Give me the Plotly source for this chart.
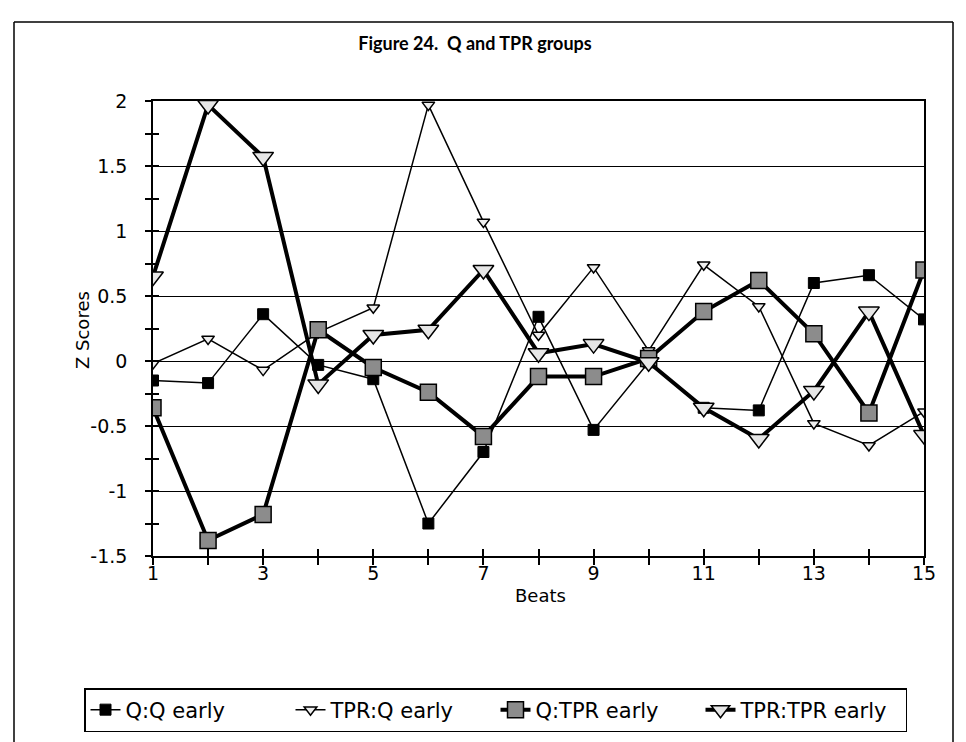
import plotly.graph_objects as go

beats = list(range(1, 16))
x_tick_vals = list(range(1, 16))
x_tick_text = ["1", "", "3", "", "5", "", "7", "", "9", "", "11", "", "13", "", "15"]
y_tick_vals = [2, 1.5, 1, 0.5, 0, -0.5, -1, -1.5]
y_tick_text = ["2", "1.5", "1", "0.5", "0", "-0.5", "-1", "-1.5"]

q_q_early = [-0.15, -0.17, 0.36, -0.03, -0.14, -1.25, -0.70, 0.34, -0.53, -0.01, -0.36, -0.38, 0.60, 0.66, 0.32]
tpr_q_early = [-0.02, 0.17, -0.07, 0.22, 0.41, 1.97, 1.07, 0.20, 0.72, 0.08, 0.74, 0.42, -0.48, -0.65, -0.39]
q_tpr_early = [-0.36, -1.38, -1.18, 0.24, -0.05, -0.24, -0.58, -0.12, -0.12, 0.02, 0.38, 0.62, 0.21, -0.40, 0.70]
tpr_tpr_early = [0.65, 1.97, 1.57, -0.18, 0.20, 0.24, 0.70, 0.06, 0.13, -0.01, -0.36, -0.60, -0.23, 0.38, -0.57]

FONT = "DejaVu Sans"

fig = go.Figure()
fig.add_trace(go.Scatter(
    x=beats, y=q_q_early, name="Q:Q early", mode="lines+markers",
    line=dict(color="black", width=1.5),
    marker=dict(symbol="square", size=11, color="black", line=dict(color="black", width=1))))
fig.add_trace(go.Scatter(
    x=beats, y=tpr_q_early, name="TPR:Q early", mode="lines+markers",
    line=dict(color="black", width=1.5),
    marker=dict(symbol="triangle-down", size=11, color="#eeeeee", line=dict(color="black", width=1.5))))
fig.add_trace(go.Scatter(
    x=beats, y=q_tpr_early, name="Q:TPR early", mode="lines+markers",
    line=dict(color="black", width=4),
    marker=dict(symbol="square", size=16, color="#8c8c8c", line=dict(color="black", width=1.5))))
fig.add_trace(go.Scatter(
    x=beats, y=tpr_tpr_early, name="TPR:TPR early", mode="lines+markers",
    line=dict(color="black", width=4),
    marker=dict(symbol="triangle-down", size=18, color="#e6e6e6", line=dict(color="black", width=1.5))))

# invisible helper trace so the overlay axes (inner half of crossing ticks) render
fig.add_trace(go.Scatter(x=[1], y=[0], xaxis="x2", yaxis="y2", mode="markers",
                         marker=dict(opacity=0), showlegend=False, hoverinfo="skip"))

L, R, T, B = 153, 42, 101, 186
W, H = 966, 742
pw, ph = W - L - R, H - T - B

def px(x):
    return (x - L) / pw

def py(y):
    return (H - B - y) / ph

tick_common = dict(tickcolor="black", tickwidth=1.5)

fig.update_layout(
    width=W, height=H,
    margin=dict(l=L, r=R, t=T, b=B, autoexpand=False),
    paper_bgcolor="white", plot_bgcolor="white",
    font=dict(family=FONT, color="black", size=19),
    title=dict(text="Figure 24.  Q and TPR groups", x=px(475), xref="paper", xanchor="center",
               y=1 - 44 / H, yanchor="middle",
               font=dict(size=18, family="Lato", weight="bold", color="black")),
    showlegend=True,
    legend=dict(orientation="h", x=px(84), xanchor="left", y=py(710), yanchor="middle",
                bordercolor="black", borderwidth=1.5, bgcolor="white",
                font=dict(size=21, family=FONT), itemwidth=30, tracegroupgap=0,
                entrywidth=160, entrywidthmode="pixels"),
    xaxis=dict(range=[1, 15], tickvals=x_tick_vals, ticktext=x_tick_text,
               showgrid=False, zeroline=False, showline=True, linecolor="black", linewidth=1.5,
               mirror=True, ticks="outside", ticklen=7, ticklabelstandoff=-8,
               tickfont=dict(size=19, family=FONT), **tick_common),
    yaxis=dict(range=[-1.5, 2], tickvals=y_tick_vals, ticktext=y_tick_text,
               showgrid=True, gridcolor="black", gridwidth=1.2, zeroline=False,
               showline=True, linecolor="black", linewidth=1.5, mirror=True,
               ticks="outside", ticklen=6, ticklabelstandoff=14,
               tickfont=dict(size=19, family=FONT),
               minor=dict(dtick=0.25, tick0=0, ticks="outside", ticklen=6, tickcolor="black",
                          tickwidth=1.5, showgrid=False),
               **tick_common),
    xaxis2=dict(range=[1, 15], overlaying="x", side="bottom", tickvals=x_tick_vals,
                showticklabels=False, showgrid=False, zeroline=False, ticks="inside",
                ticklen=7, **tick_common),
    yaxis2=dict(range=[-1.5, 2], overlaying="y", side="left", tickvals=y_tick_vals,
                showticklabels=False, showgrid=False, zeroline=False, ticks="inside",
                ticklen=6,
                minor=dict(dtick=0.25, tick0=0, ticks="inside", ticklen=6, tickcolor="black",
                           tickwidth=1.5, showgrid=False),
                **tick_common),
    annotations=[
        dict(text="Z Scores", x=px(82), y=py(330), xref="paper", yref="paper", showarrow=False,
             xanchor="center", yanchor="middle", textangle=-90, font=dict(size=18, family=FONT)),
        dict(text="Beats", x=px(540), y=py(595), xref="paper", yref="paper", showarrow=False,
             xanchor="center", yanchor="middle", font=dict(size=18, family=FONT)),
    ],
    shapes=[
        dict(type="line", xref="paper", yref="paper", x0=px(14), x1=px(953), y0=py(22), y1=py(22),
             line=dict(color="black", width=1.5)),
        dict(type="line", xref="paper", yref="paper", x0=px(14), x1=px(14), y0=py(22), y1=py(742),
             line=dict(color="black", width=1.5)),
        dict(type="line", xref="paper", yref="paper", x0=px(953), x1=px(953), y0=py(22), y1=py(742),
             line=dict(color="black", width=1.5)),
    ],
)

fig.write_html("out.html")
